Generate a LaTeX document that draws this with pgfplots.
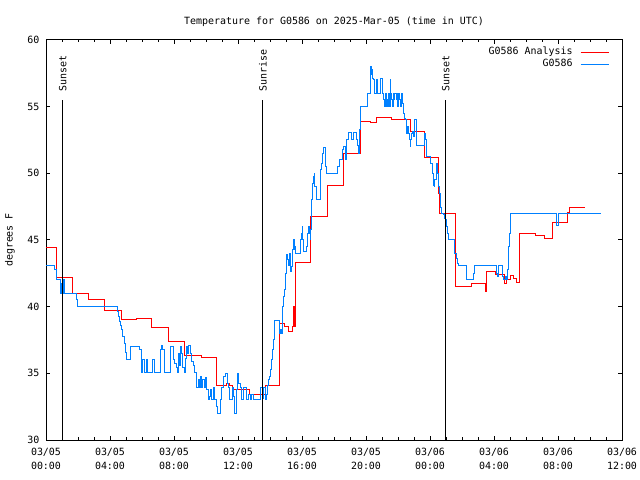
\documentclass[border=0pt]{standalone}
\usepackage{fontspec}
\setmainfont{DejaVu Sans Mono}
\usepackage{pgfplots}
\pgfplotsset{compat=1.18}
\definecolor{gpred}{RGB}{255,0,0}
\definecolor{gpblue}{RGB}{0,128,255}
\pgfplotstableread{
h v
0 44.4
0.67 42.2
1.64 41.0
2.67 40.5
3.64 39.7
4.69 39.05
5.67 39.1
6.6 38.45
7.64 37.35
8.63 36.35
9.7 36.2
10.67 34.1
11.29 34.25
11.44 34.1
11.67 33.8
12.69 33.4
13.69 34.1
14.58 38.75
14.9 38.5
15.15 38.1
15.42 38.5
15.48 40.0
15.56 38.5
15.62 43.3
16.56 46.75
17.58 49.05
18.58 51.5
19.63 53.9
20.3 53.8
20.67 54.2
21.6 54.05
22.75 53.15
23.64 51.2
24.52 49.0
24.56 48.5
24.62 47.0
25.6 41.5
26.6 41.75
27.44 41.1
27.56 42.6
28.1 42.4
28.64 41.7
28.75 42.0
29.0 42.3
29.2 42.1
29.4 41.8
29.58 42.75
29.62 45.5
30.6 45.3
31.14 45.1
31.67 46.3
32.6 47.05
32.7 47.4
33.7 47.4
}\analysis
\pgfplotstableread{
h v
0 43.05
0.52 42.75
0.625 42.0
0.92 41.0
0.97 41.7
1.02 41.0
1.07 42.0
1.13 41.45
1.18 41.0
1.88 40.5
1.96 40.0
4.46 39.6
4.52 39.25
4.58 38.9
4.65 38.6
4.71 38.25
4.8 37.75
4.9 37.25
4.98 36.55
5.06 36.0
5.29 37.0
5.85 36.75
5.94 35.05
6.04 36.0
6.125 35.05
6.25 36.0
6.33 35.05
6.67 36.0
6.75 35.4
6.81 35.05
7.125 35.4
7.17 36.75
7.23 37.1
7.29 36.75
7.375 35.05
7.75 37.0
7.96 36.0
8.06 35.75
8.125 35.4
8.21 35.05
8.27 36.5
8.33 35.6
8.375 37.0
8.48 36.5
8.54 35.4
8.625 35.05
8.69 36.1
8.75 37.0
8.83 36.5
8.9 37.1
9.0 36.75
9.04 36.5
9.1 35.9
9.21 35.6
9.27 35.05
9.375 34.5
9.42 33.9
9.52 34.5
9.58 33.9
9.67 34.75
9.73 33.9
9.79 34.5
9.875 33.9
9.94 34.7
10.0 33.9
10.04 33.75
10.125 33.0
10.21 33.25
10.29 33.75
10.35 33.0
10.46 33.9
10.56 33.0
10.625 32.5
10.71 32.0
10.875 33.0
10.98 33.9
11.08 34.75
11.19 35.0
11.33 34.25
11.4 33.9
11.46 33.0
11.625 33.9
11.71 33.25
11.75 32.5
11.81 32.0
11.875 32.5
11.92 33.75
11.96 34.95
12.04 34.25
12.125 33.9
12.21 33.0
12.33 33.9
12.54 33.0
12.65 33.4
12.75 33.0
12.85 33.4
12.96 33.0
13.42 33.95
13.54 33.1
13.6 33.95
13.69 33.0
13.75 33.4
13.83 34.1
13.9 34.5
13.96 34.75
14.04 35.25
14.1 36.0
14.17 36.75
14.21 37.5
14.25 38.25
14.27 38.95
14.58 38.0
14.625 38.25
14.69 38.0
14.75 38.4
14.79 40.0
14.83 40.75
14.9 41.25
14.94 41.75
14.98 42.5
15.0 43.25
15.04 43.9
15.08 43.5
15.15 43.1
15.19 44.0
15.25 43.0
15.31 42.6
15.35 43.0
15.42 44.25
15.46 45.0
15.52 44.25
15.56 44.5
15.6 44.0
15.875 45.0
15.94 45.5
16.0 46.0
16.04 45.0
16.08 44.1
16.29 44.5
16.35 45.5
16.4 46.0
16.46 45.5
16.5 45.0
16.56 45.75
16.6 48.0
16.65 49.25
16.69 49.75
16.75 50.0
16.81 49.0
16.875 48.0
17.17 50.25
17.23 50.75
17.29 51.5
17.33 51.9
17.44 50.5
17.54 50.0
18.2 50.5
18.33 51.05
18.54 51.75
18.58 52.0
18.69 51.0
18.75 52.0
18.79 52.5
18.9 53.05
19.1 52.5
19.21 53.05
19.42 52.5
19.46 52.05
19.52 51.5
19.58 53.25
19.625 55.0
20.1 56.0
20.25 57.5
20.29 58.0
20.33 57.4
20.375 57.75
20.42 57.1
20.46 57.0
20.5 56.5
20.56 56.0
20.625 56.75
20.67 57.0
20.73 56.0
20.875 57.1
21.04 56.0
21.08 55.5
21.125 55.0
21.19 56.0
21.25 55.0
21.29 55.5
21.33 55.0
21.4 56.0
21.46 55.0
21.5 57.0
21.54 56.0
21.6 55.5
21.67 55.0
21.71 56.0
21.77 55.5
21.81 56.0
21.875 55.5
21.92 56.0
21.96 55.0
22.02 56.0
22.08 55.5
22.125 55.0
22.19 56.0
22.25 55.5
22.29 55.25
22.33 54.5
22.375 54.1
22.44 54.0
22.5 53.5
22.54 53.0
22.6 53.5
22.65 53.0
22.71 52.5
22.75 52.0
22.79 52.5
22.85 53.0
22.92 53.1
22.96 52.75
23.02 53.25
23.06 54.0
23.125 53.25
23.17 52.1
23.65 53.0
23.69 52.5
23.75 51.9
23.79 51.25
24.06 50.75
24.17 50.0
24.21 49.1
24.25 49.0
24.31 49.5
24.375 50.0
24.42 50.75
24.46 50.0
24.52 49.0
24.58 48.5
24.625 47.75
24.67 47.4
24.73 47.0
24.83 46.9
24.9 46.6
24.96 46.5
25.0 46.0
25.08 45.5
25.15 45.0
25.5 44.5
25.56 44.0
25.625 43.6
25.71 43.25
25.77 43.05
26.25 42.5
26.29 42.0
26.71 42.5
26.77 43.05
28.17 42.5
28.23 42.25
28.29 43.05
28.54 42.25
28.58 42.0
28.69 42.25
28.75 42.0
28.83 42.75
28.9 44.5
28.96 45.5
29.0 46.25
29.06 47.0
31.92 46.05
32.0 46.5
32.05 47.0
34.7 47.0
}\station
\begin{document}
\begin{tikzpicture}
\useasboundingbox (0,0) rectangle (640bp,480bp);
\begin{axis}[
  at={(46bp,40bp)}, anchor=south west,
  width=576bp, height=400bp, scale only axis,
  xmin=0, xmax=36, ymin=30, ymax=60,
  xtick={0,4,...,36}, minor x tick num=3,
  ytick={30,35,...,60},
  xticklabels={{03/05\\00:00},{03/05\\04:00},{03/05\\08:00},{03/05\\12:00},{03/05\\16:00},{03/05\\20:00},{03/06\\00:00},{03/06\\04:00},{03/06\\08:00},{03/06\\12:00}},
  xtick pos=both, ytick pos=both,
  tick align=inside,
  major tick length=4bp, minor tick length=2.5bp,
  axis line style={line width=1bp},
  every tick/.style={black, line width=1bp},
  font=\fontsize{10}{12}\selectfont,
  xticklabel style={align=center, font=\fontsize{10}{14}\selectfont, yshift=-5bp},
  yticklabel style={font=\fontsize{10}{12}\selectfont, xshift=-3bp},
  /pgf/number format/assume math mode=true,
  ylabel={degrees F},
  ylabel style={at={(axis description cs:-0.0625,0.5)}, anchor=center},
  title={Temperature for G0586 on 2025-Mar-05 (time in UTC)},
  title style={at={(axis description cs:0.5,1.03)}, anchor=center},
  legend style={draw=none, fill=none, at={(axis description cs:0.978,0.985)}, anchor=north east,
    inner sep=0pt, row sep=0pt, column sep=6bp,
    nodes={text height=7bp, text depth=2bp, inner sep=1.5bp}},
  legend cell align=right, legend plot pos=right,
  legend image code/.code={\draw[#1] (0bp,0bp) -- (28bp,0bp);},
]
\addplot[gpred, line width=1bp, const plot] table[x=h, y=v] {\analysis};
\addlegendentry{G0586 Analysis}
\addplot[gpblue, line width=1bp, const plot] table[x=h, y=v] {\station};
\addlegendentry{G0586}
\addplot[black, line width=1bp, forget plot] coordinates {(1,30) (1,55.5)};
\addplot[black, line width=1bp, forget plot] coordinates {(13.5,30) (13.5,55.5)};
\addplot[black, line width=1bp, forget plot] coordinates {(24.94,30) (24.94,55.5)};
\node[rotate=90, anchor=west, inner sep=0pt] at (axis cs:1.05,56.1) {Sunset};
\node[rotate=90, anchor=west, inner sep=0pt] at (axis cs:13.55,56.1) {Sunrise};
\node[rotate=90, anchor=west, inner sep=0pt] at (axis cs:24.99,56.1) {Sunset};
\end{axis}
\end{tikzpicture}
\end{document}
